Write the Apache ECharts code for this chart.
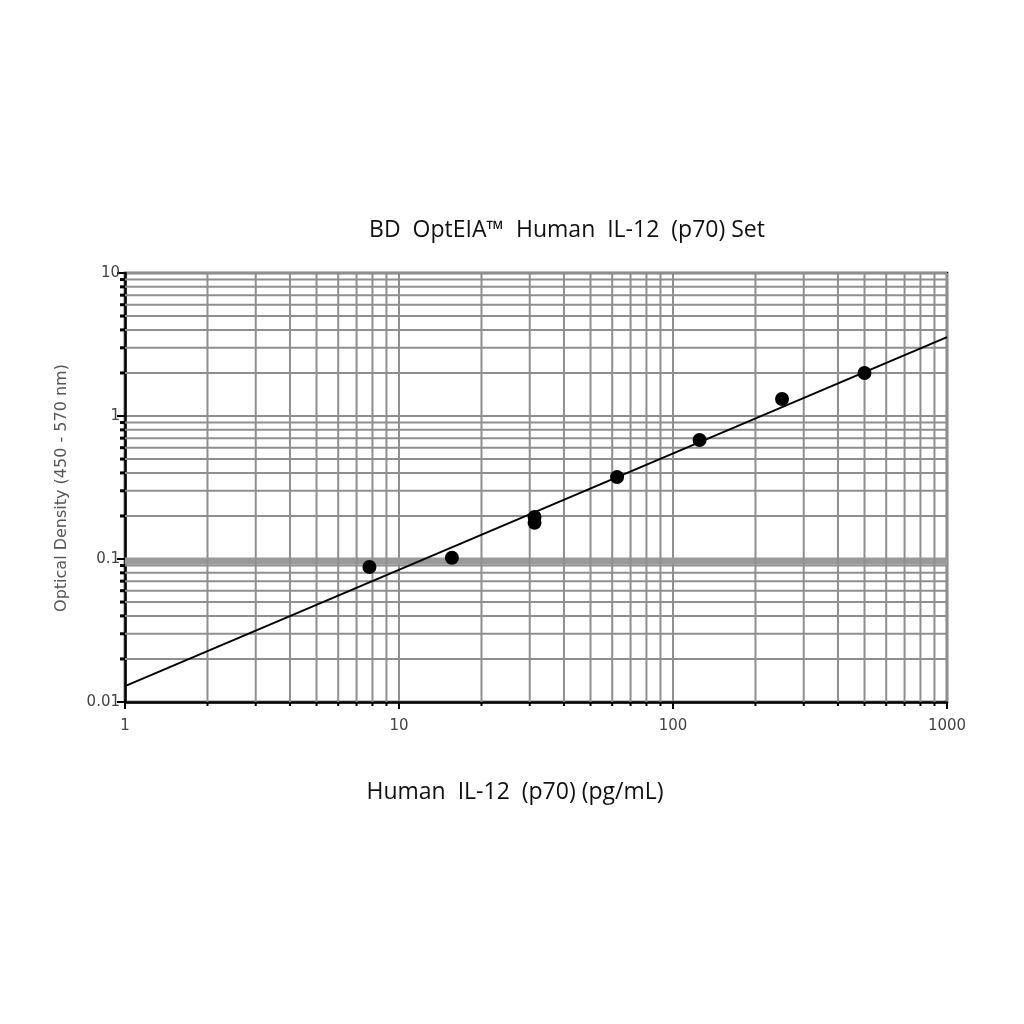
<!DOCTYPE html>
<html>
<head>
<meta charset="utf-8">
<script src="https://cdn.jsdelivr.net/npm/echarts@6/dist/echarts.min.js"></script>
<style>html,body{margin:0;padding:0;background:#fff}#c{width:1024px;height:1024px}</style>
</head>
<body>
<div id="c"></div>
<script>
// Data
const concentrations = [7.8, 15.6, 31.25, 31.25, 62.5, 125, 250, 500];
const opticalDensity = [0.088, 0.102, 0.197, 0.179, 0.374, 0.68, 1.315, 2.0];
const fitX = [1, 1000];
const fitY = [0.0129, 3.56];
const xMinor = [2,3,4,5,6,7,8,9,20,30,40,50,60,70,80,90,200,300,400,500,600,700,800,900];
const yMinor = [0.02,0.03,0.04,0.05,0.06,0.07,0.08,0.09,0.2,0.3,0.4,0.5,0.6,0.7,0.8,0.9,2,3,4,5,6,7,8,9];
const yHeavy = [0.1];
const titleText = 'BD  OptEIA\u2122  Human  IL-12  (p70) Set';
const xName = 'Human  IL-12  (p70) (pg/mL)';
const yName = 'Optical Density (450 - 570 nm)';

const GRID = '#8f8f8f';
const chart = echarts.init(document.getElementById('c'), null, {renderer: 'canvas'});

function xGridItem(params, api) {
  const v = api.value(0);
  const t = api.coord([v, 10]);
  const b = api.coord([v, 0.01]);
  return {type: 'group', children: [
    {type: 'line', shape: {x1: t[0], y1: t[1], x2: b[0], y2: b[1]}, style: {stroke: GRID, lineWidth: 2}},
    {type: 'line', shape: {x1: b[0], y1: b[1], x2: b[0], y2: b[1] + 4}, style: {stroke: '#000', lineWidth: 2}}
  ]};
}
function yGridItem(params, api) {
  const v = api.value(1);
  const l = api.coord([1, v]);
  const r = api.coord([1000, v]);
  return {type: 'group', children: [
    {type: 'line', shape: {x1: l[0], y1: l[1], x2: r[0], y2: r[1]}, style: {stroke: GRID, lineWidth: 2}},
    {type: 'line', shape: {x1: l[0] - 5, y1: l[1], x2: l[0], y2: l[1]}, style: {stroke: '#000', lineWidth: 3}}
  ]};
}
function yHeavyItem(params, api) {
  const v = api.value(1);
  const l = api.coord([1, v]);
  const r = api.coord([1000, v]);
  return {type: 'line', shape: {x1: l[0], y1: l[1] + 2, x2: r[0], y2: r[1] + 2}, style: {stroke: '#9a9a9a', lineWidth: 7}};
}

chart.setOption({
  animation: false,
  backgroundColor: '#fff',
  grid: {left: 125, right: 77, top: 273, bottom: 322, show: true, borderColor: '#000', borderWidth: 2.5, backgroundColor: 'transparent'},
  graphic: [
    {type: 'text', x: 567, y: 230, style: {text: titleText, font: '23px "Open Sans", "Noto Sans", sans-serif', fill: '#111', textAlign: 'center', textVerticalAlign: 'middle'}},
    {type: 'text', x: 515, y: 792, style: {text: xName, font: '23px "Open Sans", "Noto Sans", sans-serif', fill: '#111', textAlign: 'center', textVerticalAlign: 'middle'}},
    {type: 'text', x: 62, y: 488, rotation: Math.PI / 2, style: {text: yName, font: '16px "DejaVu Sans", sans-serif', fill: '#555', textAlign: 'center', textVerticalAlign: 'middle'}}
  ],
  xAxis: {
    type: 'log', logBase: 10, min: 1, max: 1000,
    axisLine: {show: true, lineStyle: {color: '#000', width: 2.5}},
    axisTick: {show: true, length: 7, inside: false, lineStyle: {color: '#000', width: 2}},
    axisLabel: {color: '#444', fontSize: 15, fontFamily: '"DejaVu Sans", sans-serif', margin: 17, formatter: v => String(v)},
    splitLine: {show: true, lineStyle: {color: GRID, width: 2}},
    minorTick: {show: false}
  },
  yAxis: {
    type: 'log', logBase: 10, min: 0.01, max: 10,
    axisLine: {show: true, lineStyle: {color: '#000', width: 2.5}},
    axisTick: {show: true, length: 8, lineStyle: {color: '#000', width: 2}},
    axisLabel: {color: '#444', fontSize: 15, fontFamily: '"DejaVu Sans", sans-serif', margin: 5, formatter: v => String(v)},
    splitLine: {show: true, lineStyle: {color: GRID, width: 2}}
  },
  series: [
    {type: 'custom', z: 1, silent: true, clip: false, renderItem: yHeavyItem, data: yHeavy.map(v => [1, v]), encode: {x: 0, y: 1}},
    {type: 'custom', z: 1, silent: true, clip: false, renderItem: xGridItem, data: xMinor.map(v => [v, 1]), encode: {x: 0, y: 1}},
    {type: 'custom', z: 1, silent: true, clip: false, renderItem: yGridItem, data: yMinor.map(v => [1, v]), encode: {x: 0, y: 1}},
    {type: 'line', z: 3, symbol: 'none', silent: true, lineStyle: {color: '#000', width: 2}, data: fitX.map((x, i) => [x, fitY[i]])},
    {type: 'scatter', z: 4, symbol: 'circle', symbolSize: 14, itemStyle: {color: '#000', opacity: 1}, data: concentrations.map((x, i) => [x, opticalDensity[i]])}
  ]
});
</script>
</body>
</html>
